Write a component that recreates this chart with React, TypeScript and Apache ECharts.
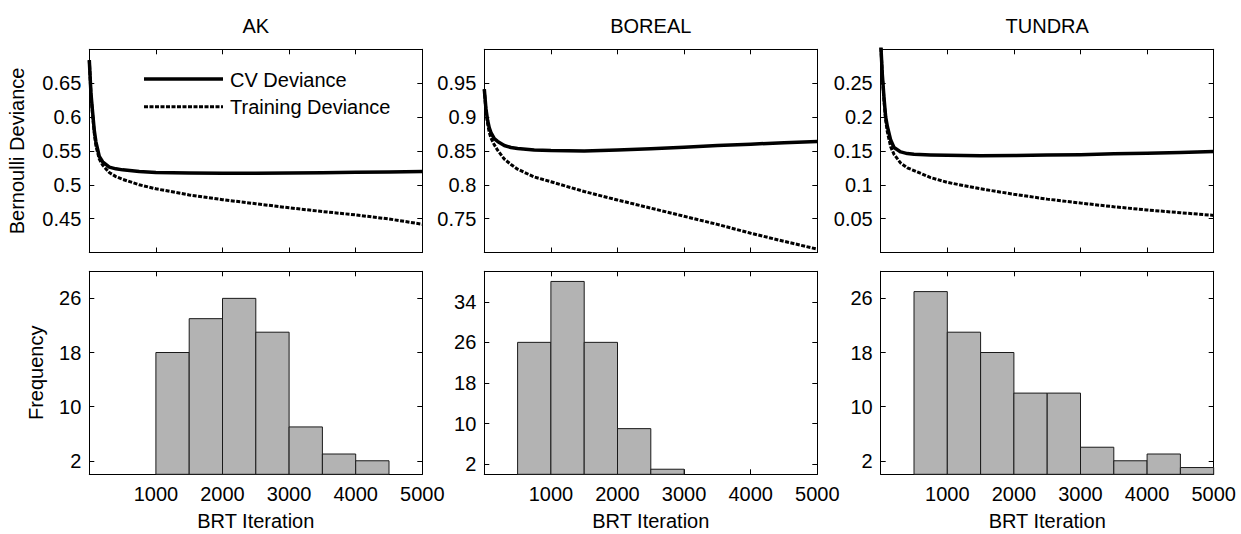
import React, { useEffect, useRef } from "react";
import * as echarts from "echarts";

// ---------- data ----------
const panelTitles = ["AK", "BOREAL", "TUNDRA"];
const iterations = [0, 25, 50, 75, 100, 150, 200, 300, 400, 500, 750, 1000, 1500, 2000, 2500, 3000, 3500, 4000, 4500, 5000];

const akCV = [0.684, 0.635, 0.607, 0.58, 0.563, 0.542, 0.534, 0.526, 0.5235, 0.522, 0.5195, 0.518, 0.5172, 0.517, 0.517, 0.5172, 0.5178, 0.5185, 0.519, 0.5196];
const akTrain = [0.684, 0.633, 0.603, 0.576, 0.557, 0.538, 0.529, 0.518, 0.512, 0.508, 0.5, 0.494, 0.485, 0.478, 0.472, 0.466, 0.4605, 0.4555, 0.4495, 0.4417];

const borealCV = [0.941, 0.912, 0.895, 0.884, 0.877, 0.868, 0.864, 0.858, 0.855, 0.8535, 0.8515, 0.8505, 0.85, 0.8515, 0.853, 0.8555, 0.858, 0.86, 0.862, 0.864];
const borealTrain = [0.941, 0.908, 0.89, 0.877, 0.869, 0.859, 0.851, 0.838, 0.83, 0.823, 0.8115, 0.8045, 0.79, 0.7775, 0.7655, 0.7535, 0.7415, 0.7285, 0.7165, 0.705];

const tundraCV = [0.31, 0.262, 0.228, 0.2, 0.186, 0.166, 0.155, 0.1485, 0.146, 0.145, 0.144, 0.1435, 0.143, 0.1432, 0.1438, 0.1445, 0.1457, 0.1466, 0.1478, 0.149];
const tundraTrain = [0.31, 0.26, 0.224, 0.195, 0.178, 0.156, 0.145, 0.132, 0.125, 0.121, 0.1105, 0.1035, 0.094, 0.086, 0.0788, 0.073, 0.0675, 0.0628, 0.0587, 0.0548];

const devianceMin = [0.4, 0.7, 0.0];
const devianceMax = [0.7, 1.0, 0.3];
const devianceInterval = 0.05;

const binWidth = 500;
const akBinStarts = [1000, 1500, 2000, 2500, 3000, 3500, 4000];
const akCounts = [18, 23, 26, 21, 7, 3, 2];
const borealBinStarts = [500, 1000, 1500, 2000, 2500];
const borealCounts = [26, 38, 26, 9, 1];
const tundraBinStarts = [500, 1000, 1500, 2000, 2500, 3000, 3500, 4000, 4500];
const tundraCounts = [27, 21, 18, 12, 12, 4, 2, 3, 1];

const freqMax = [30, 40, 30];
const freqTicksAK = [2, 10, 18, 26];
const freqTicksBoreal = [2, 10, 18, 26, 34];
const freqTicksTundra = [2, 10, 18, 26];

const xMin = 0;
const xMax = 5000;
const xInterval = 1000;

// ---------- layout ----------
const FONT = "Liberation Sans, Arial, Helvetica, sans-serif";
const colLefts = [89.3, 484.3, 880.7];
const colWidth = 333;
const topRow = { top: 49.3, height: 203.2 };
const botRow = { top: 271.3, height: 203 };

export default function App() {
  const ref = useRef<HTMLDivElement>(null);

  useEffect(() => {
    if (!ref.current) return;
    const chart = echarts.init(ref.current, undefined, { renderer: "svg" });

    const curves = [
      [akCV, akTrain],
      [borealCV, borealTrain],
      [tundraCV, tundraTrain],
    ];
    const hists = [
      [akBinStarts, akCounts, freqTicksAK],
      [borealBinStarts, borealCounts, freqTicksBoreal],
      [tundraBinStarts, tundraCounts, freqTicksTundra],
    ] as any[];

    const grids: any[] = [];
    const xAxes: any[] = [];
    const yAxes: any[] = [];
    const series: any[] = [];

    const txt = { color: "#000", fontSize: 20, fontFamily: FONT };
    const axisLine = { show: true, onZero: false, lineStyle: { color: "#000", width: 1 } };
    const tick = { show: true, inside: true, length: 5, lineStyle: { color: "#000", width: 1 } };
    const plain = (v: number) => String(v);

    for (let c = 0; c < 3; c++) {
      // ---- top (deviance) ----
      const gi = grids.length;
      grids.push({ left: colLefts[c], top: topRow.top, width: colWidth, height: topRow.height, containLabel: false });
      const xb = xAxes.length;
      xAxes.push({
        type: "value", gridIndex: gi, position: "bottom", min: xMin, max: xMax, interval: xInterval,
        axisLine, axisTick: tick, axisLabel: { show: false }, splitLine: { show: false },
      });
      xAxes.push({
        type: "value", gridIndex: gi, position: "top", min: xMin, max: xMax, interval: xInterval,
        axisLine, axisTick: tick, axisLabel: { show: false }, splitLine: { show: false },
      });
      const yb = yAxes.length;
      yAxes.push({
        type: "value", gridIndex: gi, position: "left", min: devianceMin[c], max: devianceMax[c], interval: devianceInterval,
        axisLine, axisTick: tick, splitLine: { show: false },
        axisLabel: { ...txt, margin: 8, showMinLabel: false, showMaxLabel: false },
        name: c === 0 ? "Bernoulli Deviance" : "", nameLocation: "middle", nameGap: 62,
        nameTextStyle: { ...txt },
      });
      yAxes.push({
        type: "value", gridIndex: gi, position: "right", min: devianceMin[c], max: devianceMax[c], interval: devianceInterval,
        axisLine, axisTick: tick, axisLabel: { show: false }, splitLine: { show: false },
      });
      const [cv, tr] = curves[c];
      series.push({
        type: "line", name: "CV Deviance", xAxisIndex: xb, yAxisIndex: yb,
        data: iterations.map((it, i) => [it, cv[i]]),
        showSymbol: false, symbol: "none", smooth: false, clip: true,
        lineStyle: { color: "#000", width: 3.5, join: "round" },
      });
      series.push({
        type: "line", name: "Training Deviance", xAxisIndex: xb, yAxisIndex: yb,
        data: iterations.map((it, i) => [it, tr[i]]),
        showSymbol: false, symbol: "none", smooth: false, clip: true,
        lineStyle: { color: "#000", width: 3, type: [4, 1.5], cap: "butt" },
      });

      // ---- bottom (histogram) ----
      const gj = grids.length;
      grids.push({ left: colLefts[c], top: botRow.top, width: colWidth, height: botRow.height, containLabel: false });
      const [starts, counts, fticks] = hists[c];
      const xb2 = xAxes.length;
      xAxes.push({
        type: "value", gridIndex: gj, position: "bottom", min: xMin, max: xMax, interval: xInterval,
        axisLine, axisTick: tick, splitLine: { show: false },
        axisLabel: { ...txt, margin: 10, showMinLabel: false, formatter: plain },
        name: "BRT Iteration", nameLocation: "middle", nameGap: 37, nameTextStyle: { ...txt },
      });
      xAxes.push({
        type: "value", gridIndex: gj, position: "top", min: xMin, max: xMax, interval: xInterval,
        axisLine, axisTick: tick, axisLabel: { show: false }, splitLine: { show: false },
      });
      const yb2 = yAxes.length;
      yAxes.push({
        type: "value", gridIndex: gj, position: "left", min: 0, max: freqMax[c],
        axisLine, axisTick: { ...tick, customValues: fticks }, splitLine: { show: false },
        axisLabel: { ...txt, margin: 8, customValues: fticks, formatter: plain },
        name: c === 0 ? "Frequency" : "", nameLocation: "middle", nameGap: 43,
        nameTextStyle: { ...txt },
      });
      yAxes.push({
        type: "value", gridIndex: gj, position: "right", min: 0, max: freqMax[c],
        axisLine, axisTick: { ...tick, customValues: fticks }, axisLabel: { show: false }, splitLine: { show: false },
      });
      series.push({
        type: "custom", name: panelTitles[c] + " histogram", xAxisIndex: xb2, yAxisIndex: yb2,
        data: starts.map((s: number, i: number) => [s, s + binWidth, counts[i]]),
        encode: { x: [0, 1], y: 2 },
        renderItem: (params: any, api: any) => {
          const p0 = api.coord([api.value(0), api.value(2)]);
          const p1 = api.coord([api.value(1), 0]);
          return {
            type: "rect",
            shape: { x: p0[0], y: p0[1], width: p1[0] - p0[0], height: p1[1] - p0[1] },
            style: { fill: "#b3b3b3", stroke: "#1a1a1a", lineWidth: 1 },
          };
        },
      });
    }

    const titles = panelTitles.map((t, c) => ({
      text: t, left: colLefts[c] + colWidth / 2, top: 16, textAlign: "center",
      textStyle: { ...txt, fontWeight: "normal" }, padding: 0,
    }));

    const legendX = 144;
    const graphic = [
      { type: "line", shape: { x1: legendX, y1: 79, x2: legendX + 79, y2: 79 }, style: { stroke: "#000", lineWidth: 3.5 } },
      { type: "text", x: 230, y: 80, style: { text: "CV Deviance", font: `20px ${FONT}`, fill: "#000", verticalAlign: "middle" } },
      { type: "line", shape: { x1: legendX, y1: 106.7, x2: legendX + 79, y2: 106.7 }, style: { stroke: "#000", lineWidth: 3, lineDash: [4, 1.5] } },
      { type: "text", x: 230, y: 107, style: { text: "Training Deviance", font: `20px ${FONT}`, fill: "#000", verticalAlign: "middle" } },
    ];

    chart.setOption({
      animation: false,
      backgroundColor: "#fff",
      textStyle: { fontFamily: FONT },
      title: titles,
      grid: grids,
      xAxis: xAxes,
      yAxis: yAxes,
      series,
      graphic,
    });

    return () => chart.dispose();
  }, []);

  return (
    <div
      ref={ref}
      style={{ position: "absolute", left: 0, top: 0, width: 1241, height: 534, background: "#fff" }}
    />
  );
}
